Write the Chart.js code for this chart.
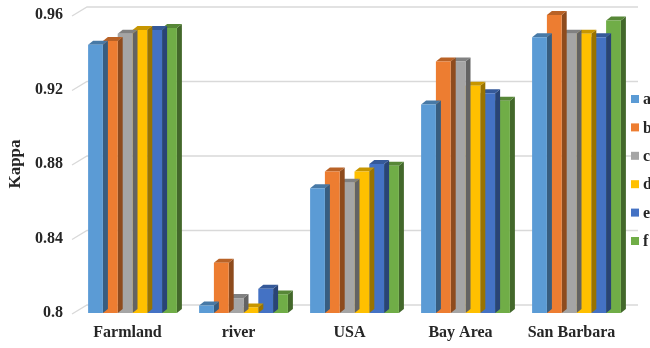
<!DOCTYPE html>
<html>
<head>
<meta charset="utf-8">
<script src="https://cdn.jsdelivr.net/npm/chart.js@4"></script>
<style>
  html,body{margin:0;padding:0;background:#fff;overflow:hidden;}
  #box{width:650px;height:348px;position:relative;}
</style>
</head>
<body>
<div id="box"><canvas id="myChart"></canvas></div>
<script>
// kappa per area, one array per method
let areaNames=["Farmland","river","USA","Bay Area","San Barbara"];
let seriesNames=["a","b","c","d","e","f"];
let kappaA=[0.944,0.804,0.867,0.912,0.948];
let kappaB=[0.946,0.827,0.876,0.935,0.960];
let kappaC=[0.950,0.808,0.870,0.935,0.950];
let kappaD=[0.952,0.803,0.876,0.922,0.950];
let kappaE=[0.952,0.813,0.880,0.918,0.948];
let kappaF=[0.953,0.810,0.879,0.914,0.957];
let yTickValues=[0.8,0.84,0.88,0.92,0.96];
let yTickLabels=["0.8","0.84","0.88","0.92","0.96"];

let colorHex=["#5B9BD5","#ED7D31","#A5A5A5","#FFC000","#4472C4","#70AD47"];
let allSeries=[kappaA,kappaB,kappaC,kappaD,kappaE,kappaF];

const depthX=5;
const depthY=4;
const wallX=15;
const wallY=8;

function shade(hex,k){
    let n=parseInt(hex.slice(1),16);
    let r=Math.round(((n>>16)&255)*k);
    let g=Math.round(((n>>8)&255)*k);
    let b=Math.round((n&255)*k);
    return "rgb("+r+","+g+","+b+")";
}

// back wall grid lines with the slanted piece on the left
const wallGrid={
    id:"wallGrid",
    beforeDatasetsDraw(chart){
        const ctx=chart.ctx;
        const y=chart.scales.y;
        const left=chart.chartArea.left;
        ctx.save();
        ctx.strokeStyle="#d9d9d9";
        ctx.lineWidth=1.3;
        for(let i=0;i<yTickValues.length;i++){
            let py=y.getPixelForValue(yTickValues[i]);
            ctx.beginPath();
            ctx.moveTo(left-5,py+1);
            ctx.lineTo(left-5+wallX,py-wallY);
            ctx.lineTo(638,py-wallY);
            ctx.stroke();
        }
        ctx.restore();
    }
};

// top and right faces of each column, drawn before the front faces
const columnDepth={
    id:"columnDepth",
    beforeDatasetDraw(chart,args){
        const ctx=chart.ctx;
        const meta=chart.getDatasetMeta(args.index);
        const base=colorHex[args.index];
        ctx.save();
        meta.data.forEach(function(bar){
            let p=bar.getProps(["x","y","base","width"],true);
            let l=p.x-p.width/2;
            let r=p.x+p.width/2;
            ctx.fillStyle=shade(base,0.6);
            ctx.beginPath();
            ctx.moveTo(r,p.y);
            ctx.lineTo(r+depthX,p.y-depthY);
            ctx.lineTo(r+depthX,p.base-depthY);
            ctx.lineTo(r,p.base);
            ctx.closePath();
            ctx.fill();
            ctx.fillStyle=shade(base,0.78);
            ctx.beginPath();
            ctx.moveTo(l,p.y);
            ctx.lineTo(l+depthX,p.y-depthY);
            ctx.lineTo(r+depthX,p.y-depthY);
            ctx.lineTo(r,p.y);
            ctx.closePath();
            ctx.fill();
        });
        ctx.restore();
    }
};

// legend on the right edge
const sideLegend={
    id:"sideLegend",
    afterDraw(chart){
        const ctx=chart.ctx;
        ctx.save();
        ctx.font="bold 16px 'Liberation Serif'";
        ctx.textBaseline="middle";
        chart.data.datasets.forEach(function(ds,i){
            let cy=99+i*28.4;
            ctx.fillStyle=ds.backgroundColor;
            ctx.fillRect(631,cy-4,8,8);
            ctx.fillStyle="#262626";
            ctx.fillText(ds.label,643,cy+1);
        });
        ctx.restore();
    }
};

let datasets=[];
for(let i=0;i<seriesNames.length;i++){
    datasets.push({
        label:seriesNames[i],
        data:allSeries[i],
        backgroundColor:colorHex[i],
        borderWidth:0,
        base:yTickValues[0],
        categoryPercentage:0.8,
        barPercentage:1.0,
        clip:false
    });
}

const ctx=document.getElementById("myChart").getContext("2d");
const myChart=new Chart(ctx,{
    type:"bar",
    data:{
        labels:areaNames,
        datasets:datasets
    },
    options:{
        responsive:true,
        maintainAspectRatio:false,
        animation:false,
        layout:{padding:{top:15,right:18,left:0,bottom:0}},
        plugins:{
            legend:{display:false},
            tooltip:{enabled:false}
        },
        scales:{
            x:{
                grid:{display:false,drawTicks:false},
                border:{display:false},
                ticks:{
                    color:"#262626",
                    font:{family:"Liberation Serif",size:16,weight:"bold"},
                    padding:10,
                    labelOffset:-5,
                    maxRotation:0
                },
                afterFit(scale){scale.height=35;}
            },
            y:{
                min:0.8,
                max:0.96,
                grid:{display:false,drawTicks:false},
                border:{display:false},
                afterBuildTicks(scale){
                    scale.ticks=yTickValues.map(function(v){return {value:v};});
                },
                ticks:{
                    color:"#262626",
                    font:{family:"Liberation Serif",size:16,weight:"bold"},
                    padding:14,
                    callback:function(value,index){return yTickLabels[index];}
                },
                title:{
                    display:true,
                    text:"Kappa",
                    color:"#262626",
                    font:{family:"Liberation Serif",size:17,weight:"bold"},
                    padding:{top:5,bottom:0}
                },
                afterFit(scale){
                    scale.width=77;
                    scale.paddingTop=0;
                    scale.paddingBottom=0;
                }
            }
        }
    },
    plugins:[wallGrid,columnDepth,sideLegend]
});
</script>
</body>
</html>
